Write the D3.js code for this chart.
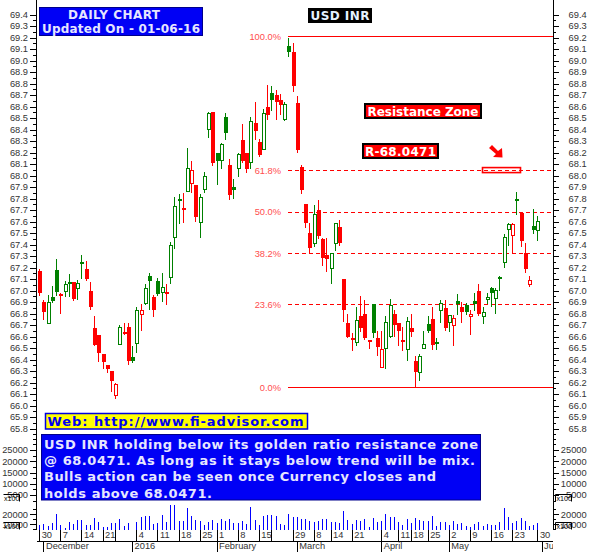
<!DOCTYPE html>
<html>
<head>
<meta charset="utf-8">
<script src="https://cdnjs.cloudflare.com/ajax/libs/d3/7.8.5/d3.min.js"></script>
<style>
  body { margin: 0; background: #fff; }
  svg { display: block; }
  .axis text { font-family: "Liberation Sans", Arial, sans-serif; font-size: 9.3px; fill: #333; }
  .axis line { stroke: #000; shape-rendering: crispEdges; }
  .banner { font-family: "DejaVu Sans", Verdana, sans-serif; font-weight: bold; }
</style>
</head>
<body>
<div id="graph"></div>
<script>
// candles, one entry per session
const opens = [
  67.17, 66.90, 66.71, 66.94, 67.18, 66.97, 66.99, 67.07, 67.07, 67.02,
  67.25, 67.19, 67.00, 66.67, 66.61, 66.45, 66.35, 66.30, 66.09, 66.53,
  66.64, 66.68, 66.42, 66.54, 66.79, 66.89, 67.13, 66.94, 67.08, 66.98,
  66.99, 67.11, 67.46, 67.80, 67.72, 67.86, 67.93, 67.92, 67.59, 67.88,
  68.40, 68.55, 68.20, 68.13, 68.51, 68.09, 67.90, 68.06, 68.31, 68.20,
  68.11, 68.46, 68.29, 68.23, 68.60, 68.72, 68.70, 68.66, 68.49, 69.13,
  69.07, 68.63, 68.07, 67.75, 67.50, 67.41, 67.70, 67.45, 67.31, 67.19,
  67.41, 67.55, 67.10, 66.72, 66.59, 66.55, 66.78, 66.80, 66.57, 66.88,
  66.59, 66.33, 66.50, 66.60, 66.80, 66.72, 66.57, 66.49, 66.67, 66.39,
  66.29, 66.50, 66.71, 66.75, 66.55, 66.83, 66.85, 66.72, 66.70, 66.91,
  66.86, 66.87, 66.77, 66.91, 67.00, 66.77, 66.92, 67.02, 66.93, 67.12,
  67.24, 67.53, 67.48, 67.80, 67.67, 67.33, 67.05, 67.56, 67.52
];
const highs = [
  67.19, 66.92, 66.96, 67.04, 67.27, 66.98, 67.08, 67.14, 67.07, 67.09,
  67.31, 67.26, 67.07, 66.78, 66.61, 66.45, 66.35, 66.30, 66.20, 66.70,
  66.72, 66.72, 66.52, 66.86, 66.88, 67.06, 67.15, 66.96, 67.11, 67.15,
  67.06, 67.42, 67.81, 67.84, 67.85, 68.24, 68.13, 67.92, 67.84, 68.03,
  68.55, 68.55, 68.20, 68.28, 68.54, 68.14, 67.97, 68.20, 68.45, 68.20,
  68.51, 68.64, 68.32, 68.58, 68.79, 68.78, 68.74, 68.71, 68.64, 69.20,
  69.15, 68.69, 68.09, 67.75, 67.59, 67.74, 67.79, 67.46, 67.46, 67.33,
  67.59, 67.61, 67.10, 66.80, 66.63, 66.86, 66.95, 66.92, 66.57, 66.88,
  66.65, 66.65, 66.78, 66.93, 66.83, 66.72, 66.68, 66.77, 66.80, 66.43,
  66.45, 66.65, 66.78, 66.86, 66.59, 66.92, 66.92, 66.79, 66.79, 66.97,
  66.90, 66.89, 66.83, 66.98, 67.06, 66.86, 66.98, 67.03, 67.02, 67.13,
  67.49, 67.59, 67.59, 67.86, 67.67, 67.41, 67.13, 67.71, 67.65
];
const lows = [
  66.95, 66.74, 66.71, 66.89, 66.95, 66.80, 66.94, 66.94, 66.91, 66.92,
  67.10, 67.08, 66.83, 66.52, 66.38, 66.32, 66.28, 66.12, 66.06, 66.53,
  66.61, 66.35, 66.37, 66.46, 66.65, 66.87, 66.83, 66.77, 66.95, 66.90,
  66.87, 67.06, 67.36, 67.58, 67.59, 67.86, 67.85, 67.60, 67.46, 67.85,
  68.33, 68.08, 67.92, 68.06, 68.31, 67.79, 67.80, 67.99, 68.11, 68.02,
  68.06, 68.31, 68.16, 68.23, 68.48, 68.56, 68.48, 68.53, 68.47, 69.03,
  68.73, 68.20, 67.84, 67.54, 67.33, 67.38, 67.45, 67.21, 67.16, 67.06,
  67.34, 67.39, 66.73, 66.59, 66.47, 66.52, 66.64, 66.57, 66.49, 66.59,
  66.43, 66.33, 66.32, 66.59, 66.60, 66.52, 66.47, 66.39, 66.60, 66.16,
  66.21, 66.49, 66.63, 66.48, 66.48, 66.72, 66.65, 66.64, 66.52, 66.79,
  66.72, 66.79, 66.61, 66.82, 66.78, 66.71, 66.88, 66.86, 66.80, 67.00,
  67.20, 67.39, 67.33, 67.66, 67.38, 67.15, 67.03, 67.49, 67.43
];
const closes = [
  66.98, 66.81, 66.90, 66.91, 66.99, 66.95, 67.05, 67.06, 66.93, 67.06,
  67.23, 67.10, 66.86, 66.53, 66.46, 66.38, 66.32, 66.21, 66.18, 66.68,
  66.63, 66.39, 66.39, 66.83, 66.83, 67.02, 67.08, 66.83, 66.97, 67.03,
  66.97, 67.39, 67.73, 67.79, 67.71, 68.06, 68.04, 67.64, 67.81, 67.99,
  68.54, 68.11, 68.13, 68.27, 68.37, 67.83, 67.87, 68.18, 68.13, 68.06,
  68.47, 68.39, 68.18, 68.54, 68.53, 68.66, 68.64, 68.61, 68.62, 69.07,
  68.78, 68.22, 67.87, 67.59, 67.37, 67.66, 67.47, 67.28, 67.27, 67.32,
  67.58, 67.41, 66.83, 66.60, 66.58, 66.74, 66.67, 66.59, 66.56, 66.63,
  66.51, 66.49, 66.72, 66.87, 66.70, 66.65, 66.56, 66.73, 66.64, 66.29,
  66.43, 66.53, 66.65, 66.53, 66.54, 66.89, 66.67, 66.78, 66.76, 66.88,
  66.81, 66.81, 66.79, 66.88, 66.80, 66.81, 66.94, 66.98, 67.00, 67.11,
  67.46, 67.57, 67.57, 67.79, 67.43, 67.19, 67.09, 67.53, 67.60
];
// 1 = session drawn green, 0 = drawn red
const gains = [
  0,0,1,1,1,0,1,1,0,1, 1,0,0,0,0,0,0,0,0,1,
  0,0,1,1,0,1,1,0,1,1, 0,1,1,1,0,1,0,0,1,1,
  1,0,1,1,1,0,1,1,0,0, 1,0,0,1,0,1,0,0,1,1,
  0,0,0,0,0,1,0,0,0,1, 1,0,0,0,0,1,0,0,0,1,
  0,0,1,1,0,0,0,1,0,0, 1,1,1,0,1,1,0,1,0,1,
  0,1,0,1,0,1,1,1,1,1, 1,1,0,1,0,0,0,1,1
];
const volumes = [
  9300,10300,8300,11000,20300,9000,6300,12300,10300,14300,
  14300,9700,9700,16300,12300,7700,7700,11000,11700,15300,
  8300,11000,4300,12300,17700,18300,18300,10300,11000,19000,
  12300,29300,29300,13700,13700,26300,18300,14300,13700,9000,
  12300,14300,11000,15300,13700,15300,11000,11000,13700,10300,
  27000,14300,9000,18300,19000,19000,18300,10300,9000,20000,
  17700,17000,15000,15000,13000,12300,13300,15700,15700,12700,
  12300,11000,23300,14300,10300,14300,13700,15700,7700,16300,
  12300,13700,20300,17700,17000,12700,9000,15300,11000,16300,
  14300,13000,13700,18300,8300,12300,12300,9300,13000,10000,
  11000,8300,7700,10300,12300,8300,10000,9000,9000,12300,
  26300,17700,11700,13700,16300,13000,8300,9700,11000
];

const priceTicks = [
  69.4, 69.3, 69.2, 69.1, 69.0, 68.9, 68.8, 68.7, 68.6, 68.5, 68.4, 68.3, 68.2,
  68.1, 68.0, 67.9, 67.8, 67.7, 67.6, 67.5, 67.4, 67.3, 67.2, 67.1, 67.0, 66.9,
  66.8, 66.7, 66.6, 66.5, 66.4, 66.3, 66.2, 66.1, 66.0, 65.9, 65.8
];
const upperVolTicks = [25000, 20000, 15000, 10000, 5000];
const upperVolMinor = [30000, 27500, 22500, 17500, 12500, 7500, 2500];
const lowerVolTicks = [20000, 10000];
const lowerVolMinor = [25000, 15000, 5000];

// session index of each weekly tick, with its day label ("" = tick only)
const weekSessions = [0, 5, 10, 15, 18, 23, 28, 33, 38, 42, 47, 52, 55, 60, 65, 69, 74, 81, 85, 88, 92, 97, 102, 107, 112, 118];
const weekLabels = ["30", "7", "14", "21", "", "4", "11", "18", "25", "1", "8", "15", "", "29", "8", "14", "21", "4", "11", "18", "25", "2", "9", "16", "23", "30"];
const monthSessions = [1, 22, 42, 61, 81, 97, 119];
const monthLabels = ["December", "2016", "February", "March", "April", "May", "Jun"];

const fibLow = 66.16, fibHigh = 69.21;
const fibLevels = [100, 61.8, 50, 38.2, 23.6, 0];
const resistance = 68.0471;

const noteLines = [
  "USD INR holding below its golden ratio resistance zone",
  "@ 68.0471. As long as it stays below trend will be mix.",
  "Bulls action can be seen once Currency closes and",
  "holds above 68.0471."
];
const noteWidths = [434, 431, 392, 168];

const width = 589, height = 552;
const leftX = 36, rightX = 553, panelBottom = 530;

const svg = d3.select("#graph")
  .append("svg")
  .attr("width", width)
  .attr("height", height);

const x = d3.scaleLinear().domain([0, 118]).range([39.2, 537.4]);
const y = d3.scaleLinear().domain([65.8, 69.4]).range([428.5, 14.5]);
const yUpperVol = d3.scaleLinear().domain([5000, 25000]).range([495, 450]);
const yLowerVol = d3.scaleLinear().domain([10000, 20000]).range([524.3, 514.3]);

const clip = svg.append("clipPath").attr("id", "plot-clip");
clip.append("rect").attr("x", 0).attr("y", 0).attr("width", rightX).attr("height", height);

// --- price and volume axes, both sides
function sideAxis(scale, ticks, minor, side, fmt) {
  const maker = side === "left" ? d3.axisLeft : d3.axisRight;
  const tx = side === "left" ? leftX : rightX;
  const g = svg.append("g").attr("class", "axis").attr("transform", "translate(" + tx + ",0)");
  g.append("g").call(maker(scale).tickValues(minor).tickSize(3).tickFormat(""))
    .call(s => s.select(".domain").remove());
  const major = g.append("g").call(maker(scale).tickValues(ticks).tickSize(6).tickPadding(2).tickFormat(fmt));
  major.select(".domain").remove();
  if (side === "right") major.selectAll("text").attr("x", 33.7).attr("text-anchor", "end");
}

const priceMinor = priceTicks.map(d => d - 0.05);
["left", "right"].forEach(side => {
  sideAxis(y, priceTicks, priceMinor, side, d3.format(".1f"));
  sideAxis(yUpperVol, upperVolTicks, upperVolMinor, side, d3.format("d"));
  sideAxis(yLowerVol, lowerVolTicks, lowerVolMinor, side, d3.format("d"));
});

[leftX, rightX].forEach(px => {
  svg.append("line")
    .attr("x1", px + 0.5).attr("x2", px + 0.5)
    .attr("y1", 0).attr("y2", panelBottom)
    .attr("stroke", "#000");
});

// x100 multiplier tags
[494.5, 522.5].forEach(ty => {
  svg.append("path").attr("fill", "none").attr("stroke", "#000")
    .attr("d", "M3.5," + ty + "H19.5V" + (ty + 7));
  svg.append("text").attr("x", 4).attr("y", ty + 6)
    .attr("font-family", "Liberation Sans").attr("font-size", 7.2).text("x100");
  svg.append("path").attr("fill", "none").attr("stroke", "#000")
    .attr("d", "M555.5," + (ty + 7) + "V" + ty + "H571.5V" + (ty + 7));
  svg.append("text").attr("x", 556.5).attr("y", ty + 6)
    .attr("font-family", "Liberation Sans").attr("font-size", 7.2).text("x100");
});

// --- date axes
const weekAxis = svg.append("g").attr("class", "axis")
  .attr("transform", "translate(0," + panelBottom + ")")
  .call(d3.axisBottom(x).tickValues(weekSessions).tickSize(11)
    .tickFormat((d, i) => weekLabels[i]));
weekAxis.select(".domain").remove();
weekAxis.selectAll("text").attr("x", 2).attr("y", 1).attr("text-anchor", "start");

const monthAxis = svg.append("g").attr("class", "axis")
  .attr("transform", "translate(0,541)")
  .attr("clip-path", "url(#plot-clip)")
  .call(d3.axisBottom(x).tickValues(monthSessions).tickSize(11)
    .tickFormat((d, i) => monthLabels[i]));
monthAxis.select(".domain").remove();
monthAxis.selectAll("text").attr("x", 2).attr("y", 1).attr("text-anchor", "start");

svg.append("line")
  .attr("x1", 37).attr("x2", rightX)
  .attr("y1", 541.5).attr("y2", 541.5)
  .attr("stroke", "#000");

// --- fibonacci retracement lines
const fibY = p => y(fibLow + (fibHigh - fibLow) * p / 100);

svg.append("g")
  .selectAll("line")
  .data(fibLevels)
  .join("line")
  .attr("x1", 288)
  .attr("x2", rightX)
  .attr("y1", d => Math.round(fibY(d)) + 0.5)
  .attr("y2", d => Math.round(fibY(d)) + 0.5)
  .attr("stroke", "#ff0000")
  .attr("stroke-dasharray", d => (d === 0 || d === 100) ? null : "4 3");

svg.append("g")
  .selectAll("text")
  .data(fibLevels)
  .join("text")
  .attr("x", 281)
  .attr("y", d => fibY(d) + 3.5)
  .attr("text-anchor", "end")
  .attr("font-family", "Liberation Sans")
  .attr("font-size", 9.3)
  .attr("fill", "#ff4d4d")
  .text(d => d.toFixed(1) + "%");

// resistance marker box sits under the dashes
svg.append("rect")
  .attr("x", 482.5).attr("y", y(resistance) - 2.5)
  .attr("width", 38).attr("height", 5)
  .attr("fill", "#fff").attr("stroke", "#ff0000").attr("stroke-width", 1.6);
svg.append("line")
  .attr("x1", 484).attr("x2", 520)
  .attr("y1", Math.round(fibY(61.8)) + 0.5).attr("y2", Math.round(fibY(61.8)) + 0.5)
  .attr("stroke", "#ff0000").attr("stroke-dasharray", "4 3");

// --- candles
const sessions = d3.range(opens.length);
const candle = svg.append("g")
  .selectAll("g")
  .data(sessions)
  .join("g")
  .attr("transform", i => "translate(" + (Math.round(x(i)) + 0.5) + ",0)")
  .attr("shape-rendering", "crispEdges");

candle.append("line")
  .attr("y1", i => y(highs[i]))
  .attr("y2", i => y(lows[i]))
  .attr("stroke", i => gains[i] ? "#008000" : "#ff0000");

candle.append("rect")
  .attr("x", i => closes[i] > opens[i] ? -1 : -1.5)
  .attr("width", i => closes[i] > opens[i] ? 3 : 4)
  .attr("y", i => y(Math.max(opens[i], closes[i])))
  .attr("height", i => Math.max(2, Math.abs(y(opens[i]) - y(closes[i]))))
  .attr("fill", i => closes[i] > opens[i] ? "#fff" : (gains[i] ? "#008000" : "#ff0000"))
  .attr("stroke", i => closes[i] > opens[i] ? (gains[i] ? "#008000" : "#ff0000") : "none")
  .attr("stroke-width", 1);

// --- volume bars
svg.append("g")
  .selectAll("line")
  .data(volumes)
  .join("line")
  .attr("x1", (d, i) => Math.round(x(i)) + 0.5)
  .attr("x2", (d, i) => Math.round(x(i)) + 0.5)
  .attr("y1", panelBottom)
  .attr("y2", d => yLowerVol(d))
  .attr("stroke", "#0000ff")
  .attr("shape-rendering", "crispEdges");

// --- banners
function banner(bx, by, bw, bh, fill, edge, edgeWidth) {
  svg.append("rect")
    .attr("x", bx).attr("y", by).attr("width", bw).attr("height", bh)
    .attr("fill", fill).attr("stroke", edge).attr("stroke-width", edgeWidth);
}
function bannerText(str, tx, ty, size, len, fill) {
  svg.append("text")
    .attr("class", "banner")
    .attr("x", tx).attr("y", ty)
    .attr("font-size", size)
    .attr("textLength", len)
    .attr("lengthAdjust", "spacing")
    .attr("fill", fill)
    .text(str);
}

banner(39.5, 7.5, 163, 28, "#0000f5", "#00008b", 1);
bannerText("DAILY CHART", 68, 19, 12, 92, "#e6e6ff");
bannerText("Updated On - 01-06-16", 42, 33, 12, 158, "#e6e6ff");

banner(308, 8, 64, 15, "#000", "#000", 0);
bannerText("USD INR", 310.5, 19.5, 12, 59, "#e6f2ff");

banner(365, 104, 116, 14, "#ff0000", "#000", 2);
bannerText("Resistance Zone", 367.5, 115.5, 12, 111, "#fff");

banner(363, 144, 75, 14, "#ff0000", "#000", 2);
bannerText("R-68.0471", 365, 156, 12, 71, "#fff");

// arrow pointing down to the resistance box
svg.append("path")
  .attr("d", d3.line()([[489, 148], [492, 145], [498, 151], [502, 148], [502.5, 157.5], [493, 157], [496, 154]]))
  .attr("fill", "#ff0000");

banner(45.5, 413.5, 262, 15.5, "#ffff00", "#0000e0", 1.5);
bannerText("Web: http://www.fi-advisor.com", 47.5, 426, 13, 256, "#0000f0");

banner(41.5, 434.5, 439, 65.5, "#0000f5", "#00008b", 1);
noteLines.forEach((line, i) => {
  bannerText(line, 44, 448.5 + i * 16.4, 13, noteWidths[i], "#e6e6ff");
});
</script>
</body>
</html>
